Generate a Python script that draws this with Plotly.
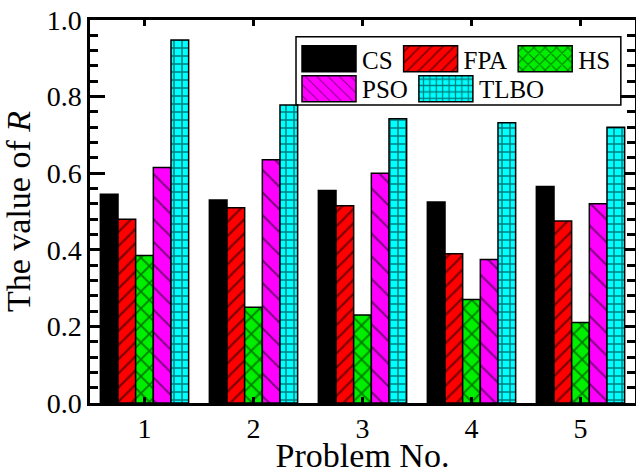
import plotly.graph_objects as go

problems = ["1", "2", "3", "4", "5"]
series_names = ["CS", "FPA", "HS", "PSO", "TLBO"]
cs = [0.545, 0.530, 0.555, 0.525, 0.565]
fpa = [0.480, 0.510, 0.515, 0.390, 0.475]
hs = [0.385, 0.250, 0.230, 0.270, 0.210]
pso = [0.615, 0.635, 0.600, 0.375, 0.520]
tlbo = [0.948, 0.778, 0.742, 0.732, 0.720]
y_ticks = [0.0, 0.2, 0.4, 0.6, 0.8, 1.0]
y_tick_labels = ["0.0", "0.2", "0.4", "0.6", "0.8", "1.0"]

values = [cs, fpa, hs, pso, tlbo]
colors = ["#000000", "#ff0000", "#00ee00", "#ff00ff", "#00ffff"]
patterns = [
    dict(shape=""),
    dict(shape="/", fgcolor="black", bgcolor="#ff0000", size=10, solidity=0.22),
    dict(shape="x", fgcolor="black", bgcolor="#00ee00", size=12, solidity=0.25),
    dict(shape="\\", fgcolor="black", bgcolor="#ff00ff", size=16, solidity=0.12),
    dict(shape="+", fgcolor="black", bgcolor="#00ffff", size=8, solidity=0.35),
]
legend_rows = ["legend", "legend", "legend", "legend2", "legend2"]

font_family = "Liberation Serif"

fig = go.Figure()
for name, vals, col, pat, lg in zip(series_names, values, colors, patterns, legend_rows):
    fig.add_trace(go.Bar(
        x=problems, y=vals, name=name, legend=lg,
        marker=dict(color=col, line=dict(color="black", width=1.5), pattern=pat),
    ))

legend_common = dict(
    orientation="h", xanchor="left", yanchor="top",
    bgcolor="rgba(0,0,0,0)", borderwidth=0,
    font=dict(family=font_family, size=25, color="black"),
    itemwidth=56, traceorder="normal",
)

fig.update_layout(
    width=636, height=474, autosize=False,
    margin=dict(l=90, r=1, t=20, b=71),
    paper_bgcolor="white", plot_bgcolor="white",
    barmode="group", bargap=0.19, bargroupgap=0,
    font=dict(family=font_family, size=28, color="black"),
    legend=dict(x=0.378, y=0.958, **legend_common),
    legend2=dict(x=0.378, y=0.880, **legend_common),
    shapes=[dict(type="rect", xref="paper", yref="paper",
                 x0=0.378, x1=0.974, y0=0.778, y1=0.956,
                 line=dict(color="black", width=1.5), layer="above")],
    xaxis=dict(
        title=dict(text="Problem No.", standoff=22),
        showline=True, linecolor="black", linewidth=2.5, mirror="ticks",
        ticks="inside", ticklen=6, tickwidth=2.5, tickcolor="black",
        ticklabelstandoff=-1, automargin=False,
        showgrid=False, zeroline=False,
        range=[-0.5, 4.5],
    ),
    yaxis=dict(
        title=dict(text="The value of <i>R</i>", standoff=8),
        range=[0, 1.0], automargin=False,
        tickvals=y_ticks, ticktext=y_tick_labels,
        showline=True, linecolor="black", linewidth=2.5, mirror="ticks",
        ticks="inside", ticklen=15, tickwidth=2.5, tickcolor="black",
        ticklabelstandoff=0,
        minor=dict(dtick=0.04, tick0=0, ticks="inside", ticklen=8, tickwidth=2.5, tickcolor="black"),
        showgrid=False, zeroline=False, layer="below traces",
    ),
)

post = """
document.body.style.margin = '0';
var st = document.createElement('style');
st.textContent = ".legendpoints path { d: path('M27,13H-27V-13H27Z'); }";
document.head.appendChild(st);
function bigSwatches() {
  document.querySelectorAll('.legendpoints path').forEach(function(p){
    p.setAttribute('d', 'M27,13H-27V-13H27Z');
  });
}
bigSwatches();
var gdv = document.getElementById('{plot_id}');
if (gdv && gdv.on) { gdv.on('plotly_afterplot', bigSwatches); }
"""

fig.write_html("out.html", post_script=post, config={"displayModeBar": False})
